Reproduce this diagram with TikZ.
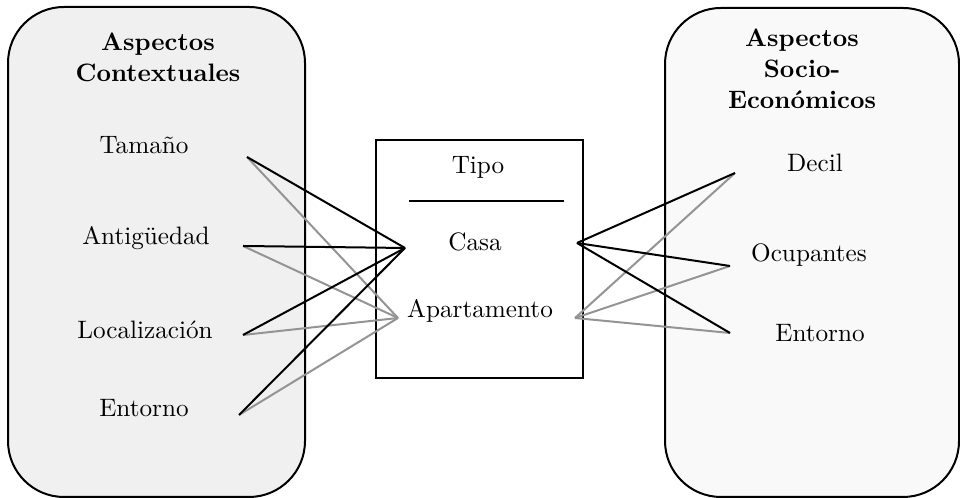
\documentclass[tikz,border=0pt]{standalone}
\begin{document}
\begin{tikzpicture}[x=0.25pt,y=-0.25pt,
  font=\fontsize{10}{12.4}\selectfont,
  group/.style={draw, line width=0.5pt, rounded corners=14pt, inner sep=0pt},
  tipobox/.style={draw, line width=0.5pt, fill=white, inner sep=0pt},
  heading/.style={font=\fontsize{10}{12.4}\selectfont\bfseries, align=center,
    inner sep=0pt, scale=0.63, transform shape},
  item/.style={inner sep=0pt, scale=0.63, transform shape},
  strong/.style={line width=0.5pt, black},
  faint/.style={line width=0.5pt, black!42}]
\definecolor{ctxfill}{HTML}{F0F0F0}
\definecolor{socfill}{HTML}{F9F9F9}
\useasboundingbox (0,0) rectangle (960,498);

% group containers
\node[group, fill=ctxfill, minimum width=74.25pt, minimum height=122.5pt] (ctx) at (156.5,252) {};
\node[group, fill=socfill, minimum width=73.5pt, minimum height=122.25pt] (soc) at (812,252.5) {};
\node[tipobox, minimum width=51.75pt, minimum height=59.5pt] (tipo) at (479.5,259) {};

% headings
\node[heading] (ctxh) at (158,57) {Aspectos\\Contextuales};
\node[heading] (soch) at (802,69) {Aspectos\\Socio-\\Económicos};

% left items
\node[item] (tam) at (144,145) {Tamaño};
\node[item] (ant) at (146,238) {Antigüedad};
\node[item] (loc) at (145,330) {Localización};
\node[item] (ent) at (144,408) {Entorno};

% centre items
\node[item] (tipot) at (478,167) {Tipo};
\node[item] (casa) at (475,242) {Casa};
\node[item] (apto) at (480,311) {Apartamento};
\coordinate (sepL) at (409,201);
\coordinate (sepR) at (564,201);
\draw[line width=0.5pt] (sepL) -- (sepR);

% right items
\node[item] (dec) at (815,163) {Decil};
\node[item] (ocu) at (809,255) {Ocupantes};
\node[item] (ent2) at (820,333) {Entorno};

% connector ends
\coordinate (cL) at (405,248);
\coordinate (aL) at (398,318);
\coordinate (cR) at (577,243);
\coordinate (aR) at (575,318);
\coordinate (t1) at (247,157);
\coordinate (t2) at (243,246);
\coordinate (t3) at (243,335);
\coordinate (t4) at (239,415);
\coordinate (s1) at (735,173);
\coordinate (s2) at (730,266);
\coordinate (s3) at (730,333);

% Apartamento links
\foreach \p in {t1,t2,t3,t4} \draw[faint] (aL) -- (\p);
\foreach \p in {s1,s2,s3} \draw[faint] (aR) -- (\p);
% Casa links
\foreach \p in {t1,t2,t3,t4} \draw[strong] (cL) -- (\p);
\foreach \p in {s1,s2,s3} \draw[strong] (cR) -- (\p);
\end{tikzpicture}
\end{document}
